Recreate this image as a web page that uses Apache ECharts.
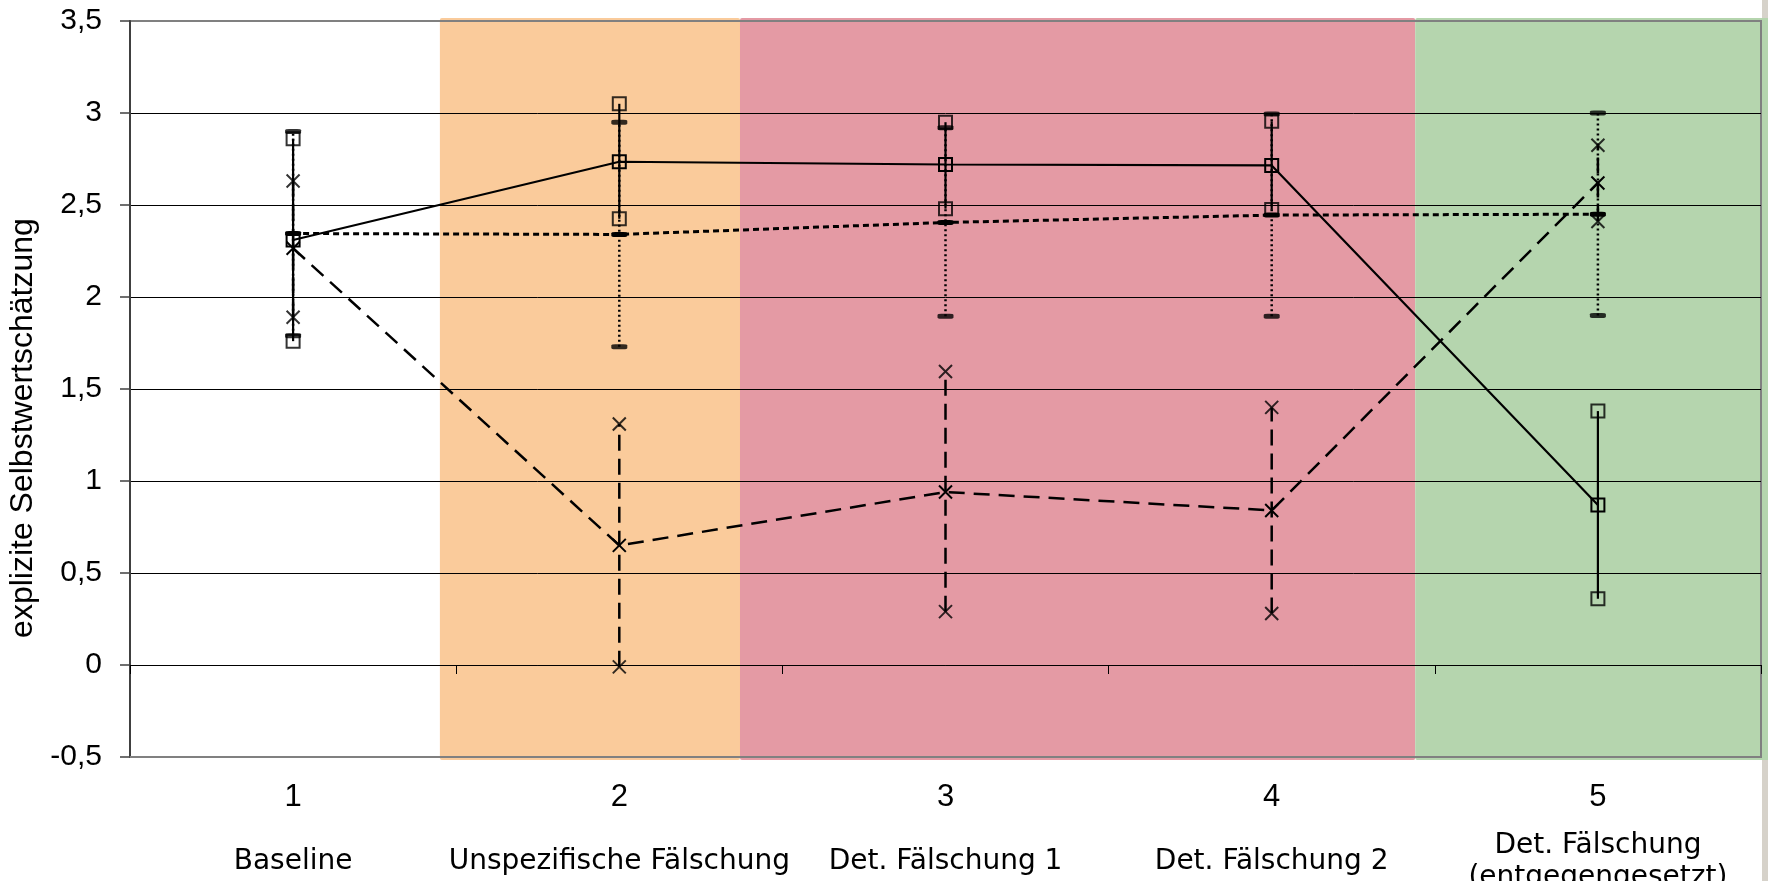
<!DOCTYPE html>
<html>
<head>
<meta charset="utf-8">
<title>explizite Selbstwertschätzung</title>
<script src="https://cdn.jsdelivr.net/npm/echarts@6/dist/echarts.min.js"></script>
<style>
  html, body { margin: 0; padding: 0; background: #fff; }
  #chart { width: 1768px; height: 881px; }
</style>
</head>
<body>
<div id="chart"></div>
<script>
// Messzeitpunkte und Phasen
const stepLabels = ['1', '2', '3', '4', '5'];
const phaseNames = ['Baseline', 'Unspezifische Fälschung', 'Det. Fälschung 1', 'Det. Fälschung 2', 'Det. Fälschung\n(entgegengesetzt)'];

// Gruppe A (durchgezogen, Quadrate)
const meanA = [2.31, 2.735, 2.72, 2.715, 0.87];
const lowA  = [1.76, 2.425, 2.48, 2.475, 0.36];
const highA = [2.86, 3.05, 2.95, 2.955, 1.38];

// Gruppe B (lang gestrichelt, Kreuze)
const meanB = [2.265, 0.65, 0.94, 0.84, 2.62];
const lowB  = [1.89, -0.01, 0.29, 0.28, 2.41];
const highB = [2.63, 1.31, 1.595, 1.40, 2.825];

// Gruppe C (kurz gestrichelt, Striche)
const meanC = [2.345, 2.34, 2.405, 2.445, 2.45];
const lowC  = [1.79, 1.73, 1.895, 1.895, 1.90];
const highC = [2.90, 2.95, 2.92, 2.995, 3.0];

// Phasen-Hintergründe, in Messzeitpunkt-Einheiten
const bandStart = [1.45, 2.37, 4.44];
const bandEnd   = [2.37, 4.44, 5.56];

const bandColors = ['#FACB9B', '#E49AA4', '#B5D5AE'];
const crossSymbol = 'path://M0,0L10,10M10,0L0,10';
const yMin = -0.5, yMax = 3.5;

const chart = echarts.init(document.getElementById('chart'));

function errorBars(low, high, dash, width) {
  return {
    type: 'custom',
    xAxisIndex: 0,
    yAxisIndex: 0,
    z: 2,
    silent: true,
    encode: { x: 0, y: [1, 2] },
    data: low.map((l, i) => [i, l, high[i]]),
    renderItem: function (params, api) {
      const lo = api.coord([api.value(0), api.value(1)]);
      const hi = api.coord([api.value(0), api.value(2)]);
      return {
        type: 'line',
        shape: { x1: lo[0], y1: lo[1], x2: hi[0], y2: hi[1] },
        style: { stroke: '#000', lineWidth: width, lineDash: dash }
      };
    }
  };
}

function endMarks(low, high, symbol, size, itemStyle) {
  return {
    type: 'scatter',
    xAxisIndex: 0,
    yAxisIndex: 0,
    z: 4,
    silent: true,
    symbol: symbol,
    symbolSize: size,
    itemStyle: itemStyle,
    data: low.map((l, i) => [i, l]).concat(high.map((h, i) => [i, h]))
  };
}

const squareStyle = { color: 'rgba(0,0,0,0)', borderColor: '#000', borderWidth: 2 };
const crossStyle = { color: '#000', borderColor: '#000', borderWidth: 2 };
const dashStyle = { color: '#000', borderWidth: 0 };

const option = {
  animation: false,
  backgroundColor: '#fff',
  // Rand rechts (Fensterleiste)
  graphic: [{
    type: 'rect', right: 0, top: 0, z: -10,
    shape: { width: 6, height: 881 },
    style: { fill: '#D6D2CA' }
  }],
  grid: {
    left: 130, right: 7, top: 21, bottom: 124,
    show: true,
    borderColor: '#808080',
    borderWidth: 2,
    backgroundColor: 'transparent',
    outerBoundsMode: 'none'
  },
  xAxis: [
    { // Nummern unten
      type: 'category',
      data: stepLabels,
      position: 'bottom',
      axisLine: { onZero: false, lineStyle: { color: '#808080', width: 2 } },
      axisTick: { show: false },
      splitLine: { show: false },
      axisLabel: {
        interval: 0, margin: 40, verticalAlign: 'middle',
        fontFamily: 'Liberation Sans', fontSize: 31, color: '#000'
      }
    },
    { // Achse auf der Nulllinie, nur Striche
      type: 'category',
      data: stepLabels,
      position: 'bottom',
      axisLine: { onZero: true, lineStyle: { color: '#000', width: 1 } },
      axisTick: { show: true, length: 9, lineStyle: { color: '#000', width: 1 } },
      axisLabel: { show: false },
      splitLine: { show: false }
    },
    { // Hilfsachse für die Phasen-Hintergründe
      type: 'value',
      min: 0.5, max: 5.5,
      position: 'top',
      show: false,
      axisLine: { onZero: false },
      splitLine: { show: false }
    },
    { // Phasennamen
      type: 'category',
      data: phaseNames,
      position: 'bottom',
      axisLine: { show: false, onZero: false },
      axisTick: { show: false },
      splitLine: { show: false },
      axisLabel: {
        interval: 0, margin: 105, verticalAlign: 'middle', lineHeight: 32,
        fontFamily: 'DejaVu Sans', fontSize: 28, color: '#000'
      }
    }
  ],
  yAxis: {
    type: 'value',
    min: yMin, max: yMax, interval: 0.5,
    axisLine: { show: true, onZero: false, lineStyle: { color: '#404040', width: 2 } },
    axisTick: { show: true, length: 10, lineStyle: { color: '#404040', width: 1.5 } },
    axisLabel: {
      margin: 28, fontFamily: 'Liberation Sans', fontSize: 30, color: '#000',
      formatter: v => String(v).replace('.', ',')
    },
    splitLine: {
      lineStyle: {
        color: ['#808080', '#000', '#000', '#000', '#000', '#000', '#000', '#000', '#808080'],
        width: 1
      }
    },
    name: 'explizite Selbstwertschätzung',
    nameLocation: 'middle',
    nameRotate: 90,
    nameGap: 84,
    nameTextStyle: {
      fontFamily: 'Liberation Sans', fontSize: 32, color: '#000',
      padding: [0, 78, 0, 0]
    }
  },
  series: [
    {
      type: 'custom',
      xAxisIndex: 2,
      yAxisIndex: 0,
      z: -1,
      silent: true,
      clip: false,
      encode: { x: [0, 1] },
      data: bandStart.map((s, i) => [s, bandEnd[i], i]),
      renderItem: function (params, api) {
        const p0 = api.coord([api.value(0), yMax]);
        const p1 = api.coord([api.value(1), yMin]);
        return {
          type: 'rect',
          shape: { x: p0[0], y: p0[1] - 3, width: p1[0] - p0[0], height: p1[1] - p0[1] + 6, r: 2 },
          style: { fill: bandColors[api.value(2)] }
        };
      }
    },
    errorBars(lowA, highA, null, 2.2),
    errorBars(lowB, highB, [16, 8], 2.5),
    errorBars(lowC, highC, [2, 3], 2.5),
    {
      type: 'line',
      xAxisIndex: 0, yAxisIndex: 0, z: 3,
      data: meanA,
      symbol: 'rect', symbolSize: 13,
      itemStyle: squareStyle,
      lineStyle: { color: '#000', width: 2.2, type: 'solid' }
    },
    {
      type: 'line',
      xAxisIndex: 0, yAxisIndex: 0, z: 3,
      data: meanB,
      symbol: crossSymbol, symbolSize: 13,
      itemStyle: crossStyle,
      lineStyle: { color: '#000', width: 2.5, type: [16, 9] }
    },
    {
      type: 'line',
      xAxisIndex: 0, yAxisIndex: 0, z: 3,
      data: meanC,
      symbol: 'roundRect', symbolSize: [16, 5],
      itemStyle: dashStyle,
      lineStyle: { color: '#000', width: 3, type: [6, 4] }
    },
    endMarks(lowA, highA, 'rect', 13, squareStyle),
    endMarks(lowB, highB, crossSymbol, 13, crossStyle),
    endMarks(lowC, highC, 'roundRect', [16, 5], dashStyle)
  ]
};

chart.setOption(option);
</script>
</body>
</html>
